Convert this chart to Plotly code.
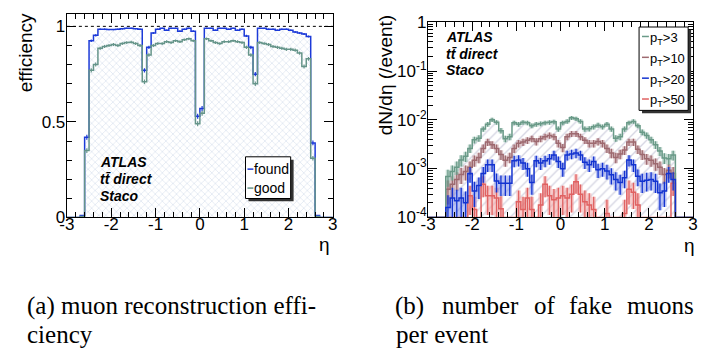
import numpy as np
import plotly.graph_objects as go

W, H = 701, 362

# ---------------- data ----------------
eta_min, eta_max, bin_width = -3.0, 3.0, 0.1

# efficiency per eta bin (60 bins, -3.0 .. 3.0)
eff_found = [0, 0, 0, 0.01,
             0.42, 0.925, 0.953, 0.985, 0.985, 0.983, 0.983, 0.985, 0.987, 0.99, 0.99, 0.988, 0.985,
             0.77, 0.89,
             0.965, 0.985, 0.99, 0.98, 0.99, 0.99, 0.975, 0.985, 0.99, 0.975,
             0.53, 0.57,
             0.99, 0.99, 0.98, 0.99, 0.99, 0.985, 0.99, 0.98, 0.985,
             0.95, 0.89, 0.75,
             0.99, 0.99, 0.985, 0.985, 0.98, 0.985, 0.985, 0.98, 0.97, 0.965, 0.96, 0.947,
             0.39, 0.01,
             0, 0, 0]
eff_good = [0, 0, 0, 0.005,
            0.35, 0.77, 0.80, 0.885, 0.895, 0.90, 0.905, 0.90, 0.91, 0.915, 0.917, 0.91, 0.90,
            0.71, 0.85,
            0.90, 0.91, 0.91, 0.92, 0.915, 0.925, 0.92, 0.93, 0.935, 0.925,
            0.49, 0.545,
            0.935, 0.925, 0.915, 0.91, 0.92, 0.92, 0.925, 0.92, 0.915,
            0.89, 0.85, 0.70,
            0.915, 0.91, 0.905, 0.895, 0.89, 0.885, 0.88, 0.88, 0.875, 0.86, 0.79, 0.83,
            0.31, 0.005,
            0, 0, 0]

# fake muons per event, dN/deta (60 bins, -3.0 .. 3.0)
fake_pt3 = [0, 0, 0, 0,
            6.9e-4, 8.7e-4, 1.07e-3, 1.5e-3, 1.8e-3, 2.6e-3, 3.9e-3, 4.2e-3, 6.5e-3, 8.1e-3,
            1.0e-2, 8.9e-3, 6.0e-3, 4.1e-3, 4.5e-3, 8.7e-3, 8.1e-3, 8.9e-3, 8.7e-3, 7.6e-3,
            8.1e-3, 8.3e-3, 8.7e-3, 8.9e-3, 9.1e-3, 6.5e-3,
            8.7e-3, 9.3e-3, 1.1e-2, 1.05e-2, 9.3e-3, 6.5e-3, 6.6e-3, 7.2e-3, 7.8e-3, 7.2e-3,
            8.1e-3, 6.5e-3, 4.2e-3, 4.5e-3, 6.5e-3, 8.7e-3, 9.3e-3, 7.6e-3, 5.6e-3, 4.8e-3,
            3.9e-3, 3.1e-3, 2.3e-3, 1.66e-3, 1.6e-3, 1.9e-3,
            0, 0, 0, 0]
fake_pt10 = [0, 0, 0, 0,
             3.8e-4, 4.8e-4, 6.0e-4, 7.6e-4, 8.7e-4, 1.07e-3, 1.48e-3, 1.7e-3, 2.6e-3, 3.5e-3,
             3.1e-3, 2.6e-3, 1.95e-3, 1.48e-3, 1.7e-3, 2.6e-3, 3.3e-3, 3.5e-3, 3.8e-3, 4.1e-3,
             3.6e-3, 4.1e-3, 4.5e-3, 4.8e-3, 4.5e-3, 3.3e-3,
             2.7e-3, 4.5e-3, 5.2e-3, 5.2e-3, 4.5e-3, 3.8e-3, 3.3e-3, 3.3e-3, 3.6e-3, 3.3e-3,
             2.6e-3, 2.1e-3, 1.7e-3, 2.0e-3, 2.4e-3, 3.5e-3, 3.5e-3, 2.5e-3, 1.95e-3, 1.6e-3,
             1.48e-3, 1.26e-3, 1.07e-3, 7.6e-4, 9.3e-4, 8.0e-4,
             0, 0, 0, 0]
fake_pt20 = [0, 0, 0, 0,
             1.6e-4, 2.5e-4, 2.2e-4, 2.5e-4, 2.0e-4, 8.0e-4, 3.5e-4, 4.5e-4, 8.0e-4, 1.2e-3,
             1.2e-3, 5.6e-4, 5.0e-4, 5.0e-4, 5.0e-4, 1.45e-3, 1.5e-3, 1.3e-3, 1.0e-3, 5.2e-4,
             1.45e-3, 1.3e-3, 1.45e-3, 1.6e-3, 1.9e-3, 1.4e-3,
             1.0e-3, 1.9e-3, 2.0e-3, 2.1e-3, 1.9e-3, 1.35e-3, 1.2e-3, 1.4e-3, 9.5e-4, 1.0e-3,
             9.0e-4, 7.5e-4, 6.0e-4, 5.2e-4, 6.5e-4, 1.5e-3, 1.2e-3, 7.0e-4, 5.5e-4, 5.8e-4,
             6.0e-4, 5.5e-4, 3.2e-4, 3.5e-4, 8.0e-4, 6.0e-4,
             0, 0, 0, 0]
fake_pt50 = [0, 0, 0, 0,
             0, 0, 0, 0, 0, 2.8e-4, 1.45e-4, 0, 4.8e-4, 2.8e-4,
             2.8e-4, 2.5e-4, 1.5e-4, 0, 0, 0, 2.1e-4, 1.45e-4, 2.5e-4, 1.45e-4,
             0, 1.8e-4, 4.8e-4, 2.8e-4, 2.3e-4, 2.5e-4,
             2.8e-4, 2.5e-4, 3.0e-4, 5.4e-4, 3.0e-4, 2.1e-4, 1.8e-4, 1.45e-4, 0, 0,
             1.2e-4, 0, 0, 0, 1.2e-4, 3.8e-4, 3.3e-4, 1.8e-4, 0, 0,
             0, 0, 0, 0, 0, 5.0e-4,
             0, 0, 0, 0]

n_muons_per_bin = 1500      # for binomial efficiency errors
n_events = 100000           # for Poisson errors on fake rates

x_tick_vals = [-3, -2, -1, 0, 1, 2, 3]
x_tick_text = ["-3", "-2", "-1", "0", "1", "2", "3"]
eff_tick_vals = [0, 0.5, 1]
eff_tick_text = ["0", "0.5", "1"]
log_tick_vals = [1e-4, 1e-3, 1e-2, 1e-1, 1]
log_tick_text = ["10<sup>-4</sup>", "10<sup>-3</sup>", "10<sup>-2</sup>", "10<sup>-1</sup>", "1"]

legend_left = ["found", "good"]
legend_right = ["p<sub>T</sub>&gt;3", "p<sub>T</sub>&gt;10", "p<sub>T</sub>&gt;20", "p<sub>T</sub>&gt;50"]
label_lines = ["<b><i>ATLAS</i></b>", "<b><i>tt\u0304 direct</i></b>", "<b><i>Staco</i></b>"]

# ---------------- styles ----------------
C_FOUND = "#1c3ad8"
C_GOOD = "#66958a"
C_PT3 = "#6a9a88"
C_PT10 = "#9e6a70"
C_PT20 = "#1434d0"
C_PT50 = "#e06262"
BAND = {C_PT3: "rgba(150,190,175,0.55)", C_PT10: "rgba(195,150,155,0.55)",
        C_PT20: "rgba(100,120,230,0.45)", C_PT50: "rgba(240,160,160,0.55)"}
SANS = "Liberation Sans, Arial"
SERIF = "Liberation Serif, Times New Roman, serif"

edges = np.round(np.arange(eta_min, eta_max + bin_width / 2, bin_width), 3)
centers = (edges[:-1] + edges[1:]) / 2


def step(vals):
    v = list(vals)
    return v + [v[-1]]


def pxx(x):
    return x / W


def pyy(y):
    return 1 - y / H


fig = go.Figure()

# ---------- left panel: efficiency ----------
found = np.array(eff_found, float)
good = np.array(eff_good, float)
fig.add_trace(go.Scatter(x=edges, y=step(found), mode="lines", line=dict(color=C_FOUND, width=1.5, shape="hv"),
                         fill="tozeroy", fillcolor="white",
                         fillpattern=dict(shape="x", fgcolor="#b9c8df", bgcolor="white", size=5, solidity=0.25),
                         xaxis="x", yaxis="y", showlegend=False, hoverinfo="skip"))
fig.add_trace(go.Scatter(x=edges, y=step(good), mode="lines", line=dict(color=C_GOOD, width=1.5, shape="hv"),
                         xaxis="x", yaxis="y", showlegend=False, hoverinfo="skip"))
for arr, col in ((found, C_FOUND), (good, C_GOOD)):
    err = np.sqrt(np.clip(arr * (1 - arr), 0, None) / n_muons_per_bin)
    mask = arr > 0.05
    fig.add_trace(go.Scatter(x=centers[mask], y=arr[mask], mode="markers", marker=dict(size=1, color=col),
                             error_y=dict(type="data", array=err[mask], color=col, thickness=1.2, width=0),
                             xaxis="x", yaxis="y", showlegend=False, hoverinfo="skip"))

# ---------- right panel: fake muons ----------
floor = 1e-4
K = n_events * bin_width
fig.add_trace(go.Scatter(x=edges, y=[floor] * len(edges), mode="lines", line=dict(width=0, shape="hv"),
                         xaxis="x2", yaxis="y2", showlegend=False, hoverinfo="skip"))
pt3 = np.array(fake_pt3, float)
fig.add_trace(go.Scatter(x=edges, y=step(np.maximum(pt3, floor)), mode="lines", line=dict(width=0, shape="hv"),
                         fill="tonexty", fillcolor="white",
                         fillpattern=dict(shape="/", fgcolor="#aeaec8", bgcolor="white", size=7, solidity=0.2),
                         xaxis="x2", yaxis="y2", showlegend=False, hoverinfo="skip"))

series = [(fake_pt50, C_PT50), (fake_pt10, C_PT10), (fake_pt3, C_PT3), (fake_pt20, C_PT20)]
for vals, col in series:
    v = np.array(vals, float)
    rel = np.where(v > 0, 1 / np.sqrt(np.where(v > 0, v, 1) * K), 0)
    up = np.maximum(v * (1 + rel), floor)
    dn = np.maximum(v * (1 - np.minimum(rel, 0.9)), floor)
    fig.add_trace(go.Scatter(x=edges, y=step(dn), mode="lines", line=dict(width=0, shape="hv"),
                             xaxis="x2", yaxis="y2", showlegend=False, hoverinfo="skip"))
    fig.add_trace(go.Scatter(x=edges, y=step(up), mode="lines", line=dict(width=0, shape="hv"),
                             fill="tonexty", fillcolor=BAND[col],
                             xaxis="x2", yaxis="y2", showlegend=False, hoverinfo="skip"))

for vals, col in series:
    v = np.array(vals, float)
    fig.add_trace(go.Scatter(x=edges, y=step(np.maximum(v, floor)), mode="lines",
                             line=dict(color=col, width=1.5, shape="hv"),
                             xaxis="x2", yaxis="y2", showlegend=False, hoverinfo="skip"))
    mask = v > 0
    rel = 1 / np.sqrt(v[mask] * K)
    fig.add_trace(go.Scatter(x=centers[mask], y=v[mask], mode="markers", marker=dict(size=1, color=col),
                             error_y=dict(type="data", array=v[mask] * rel,
                                          arrayminus=v[mask] * np.minimum(rel, 0.9),
                                          color=col, thickness=1.3, width=0),
                             xaxis="x2", yaxis="y2", showlegend=False, hoverinfo="skip"))

# ---------- axes ----------
tickfont = dict(family=SANS, size=17, color="black")
common = dict(showline=True, linecolor="black", linewidth=1.3, mirror="allticks", ticks="inside",
              ticklen=9, tickwidth=1, tickcolor="black", showgrid=False, zeroline=False, tickfont=tickfont)
xcommon = dict(common, range=[-3, 3], tickvals=x_tick_vals, ticktext=x_tick_text, ticklabelstandoff=-9,
               minor=dict(ticks="inside", ticklen=5, dtick=0.2, tick0=0, tickcolor="black", showgrid=False))
minor_log = [m * 10.0 ** d for d in range(-4, 0) for m in range(2, 10)]

fig.update_layout(
    width=W, height=H, margin=dict(l=0, r=0, t=0, b=0),
    paper_bgcolor="white", plot_bgcolor="white", showlegend=False,
    xaxis=dict(xcommon, domain=[pxx(60), pxx(331)], anchor="y"),
    yaxis=dict(common, domain=[pyy(220), pyy(5)], anchor="x", range=[0, 1.066],
               tickvals=eff_tick_vals, ticktext=eff_tick_text, ticklabelstandoff=-3,
               minor=dict(ticks="inside", ticklen=5, dtick=0.1, tick0=0, tickcolor="black", showgrid=False)),
    xaxis2=dict(xcommon, domain=[pxx(428), pxx(698)], anchor="y2"),
    yaxis2=dict(common, domain=[pyy(220), pyy(14)], anchor="x2", type="log", range=[-4, 0],
                tickvals=log_tick_vals, ticktext=log_tick_text, ticklabelstandoff=-3,
                minor=dict(ticks="inside", ticklen=5, tickvals=minor_log, tickcolor="black", showgrid=False)),
)

shapes = []
ann = []

# dotted line at efficiency = 1
shapes.append(dict(type="line", xref="x", yref="y", x0=-3, x1=3, y0=1, y1=1,
                   line=dict(color="black", width=1, dash="dot")))


def text(x, y, s, size, family=SANS, xanchor="left", yanchor="middle", angle=0, color="black"):
    ann.append(dict(x=pxx(x), y=pyy(y), xref="paper", yref="paper", text=s, showarrow=False,
                    xanchor=xanchor, yanchor=yanchor, textangle=angle,
                    font=dict(family=family, size=size, color=color)))


# axis titles
text(18, 46, "efficiency", 19, xanchor="center", angle=-90)
text(384, 70, "dN/dη (/event)", 19, xanchor="center", angle=-90)
text(322, 249, "η", 19, xanchor="center")
text(694, 250, "η", 19, xanchor="center")

# ATLAS labels
for i, s in enumerate(label_lines):
    text(92, 161 + 18 * i, s, 14)
    text(444, 30 + 17 * i, s, 14)


# legends (box with ROOT-style shadow)
def legend_box(x0, y0, x1, y1):
    shapes.append(dict(type="rect", xref="paper", yref="paper", x0=pxx(x0 + 3), x1=pxx(x1 + 3),
                       y0=pyy(y1 + 3), y1=pyy(y0 + 3), line=dict(width=0), fillcolor="#333333", layer="above"))
    shapes.append(dict(type="rect", xref="paper", yref="paper", x0=pxx(x0), x1=pxx(x1),
                       y0=pyy(y1), y1=pyy(y0), line=dict(color="black", width=1), fillcolor="white", layer="above"))


legend_box(242, 156, 288, 200)
for i, (lab, col) in enumerate(zip(legend_left, (C_FOUND, C_GOOD))):
    yc = 169 + 20 * i
    shapes.append(dict(type="line", xref="paper", yref="paper", x0=pxx(244), x1=pxx(250),
                       y0=pyy(yc), y1=pyy(yc), line=dict(color=col, width=1.5), layer="above"))
    text(249, yc, lab, 14)

legend_box(643, 19, 693, 107)
for i, (lab, col) in enumerate(zip(legend_right, (C_PT3, C_PT10, C_PT20, C_PT50))):
    yc = 29 + 22 * i
    shapes.append(dict(type="line", xref="paper", yref="paper", x0=pxx(646), x1=pxx(653),
                       y0=pyy(yc), y1=pyy(yc), line=dict(color=col, width=1.5), layer="above"))
    text(652, yc + 2, lab, 13)

# captions
text(17, 313, "(a) muon reconstruction effi-", 25, family=SERIF)
cap_b1 = [("(b)", 409), ("number", 481), ("of", 547), ("fake", 594), ("muons", 665)]
for w, xc in cap_b1:
    text(xc, 313, w, 25, family=SERIF, xanchor="center")
text(17, 344, "ciency", 25, family=SERIF)
text(393, 344, "per event", 25, family=SERIF)

fig.update_layout(shapes=shapes, annotations=ann)
fig.write_html("out.html", config={"displayModeBar": False},
               post_script="document.body.style.margin='0px';")
